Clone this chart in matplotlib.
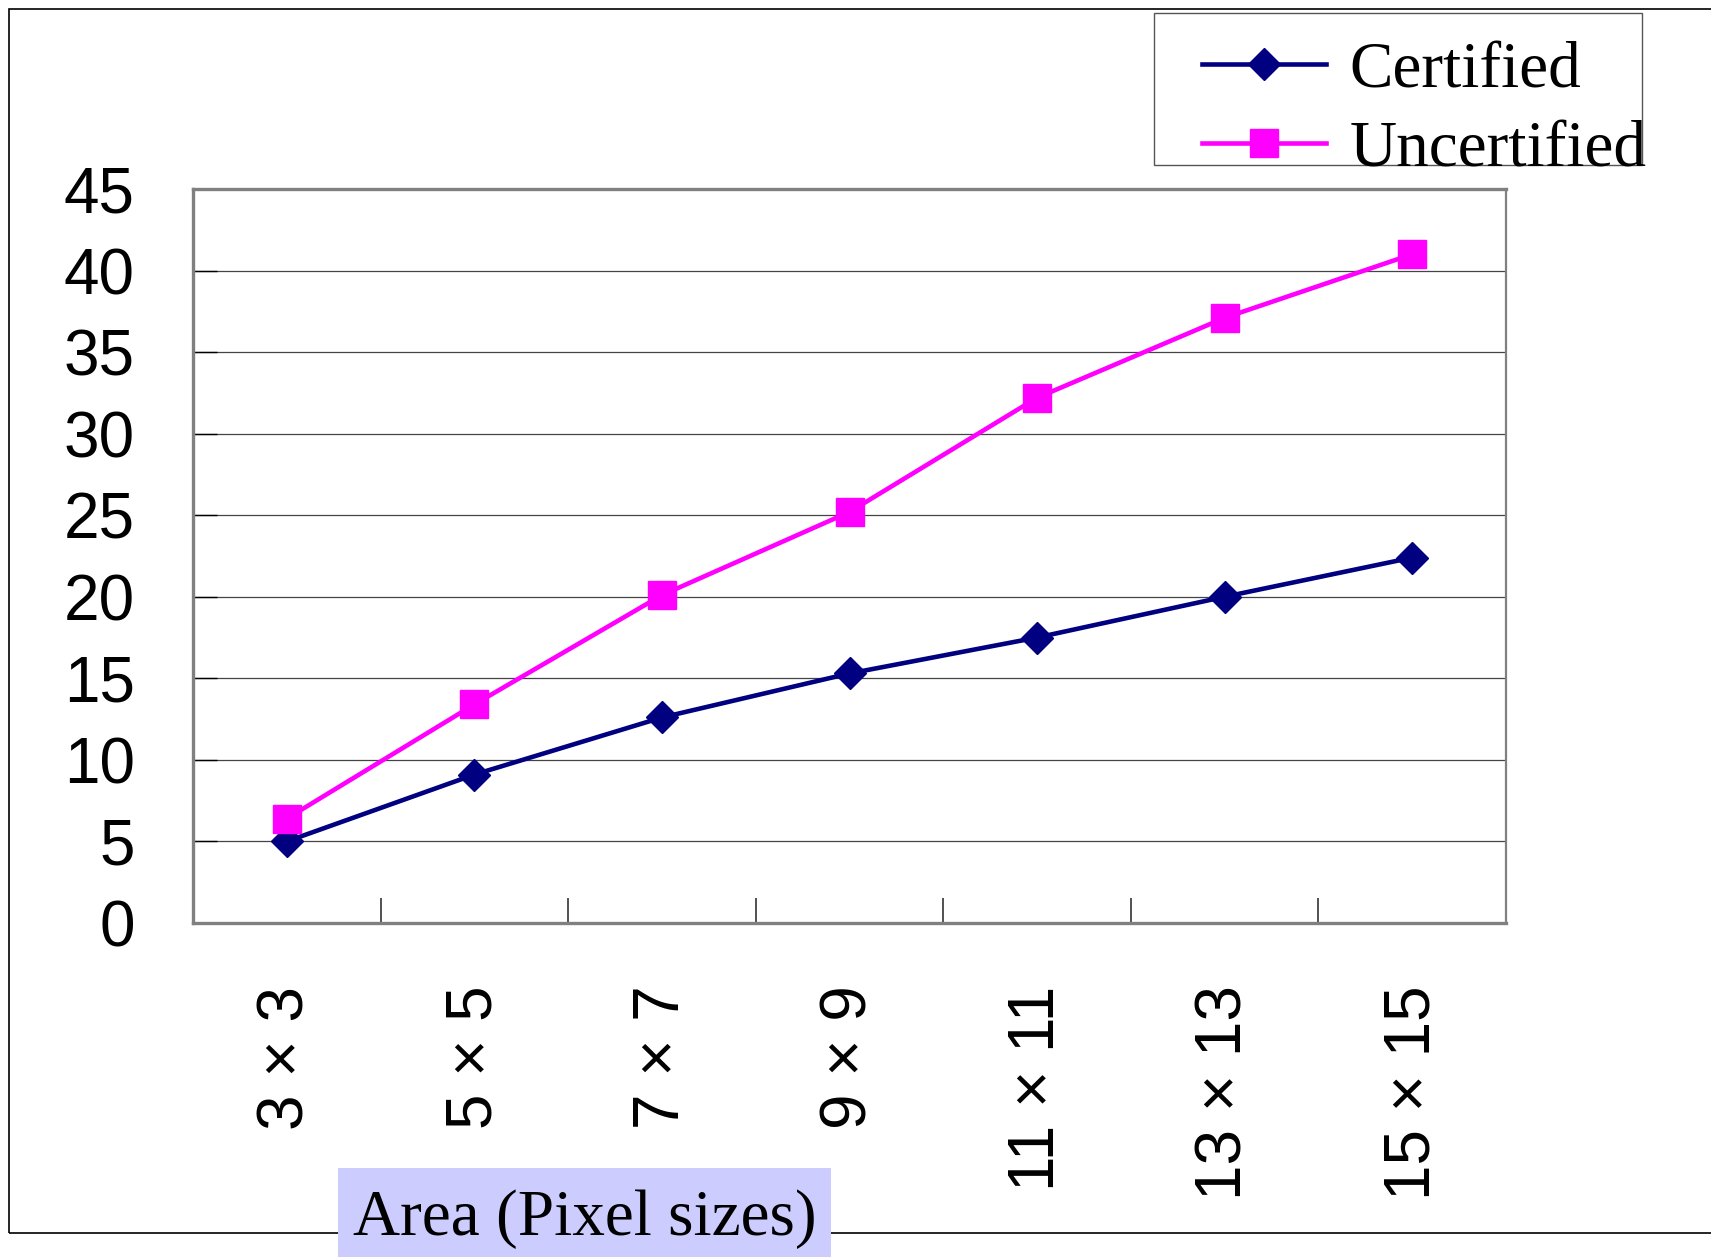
import matplotlib
matplotlib.use("Agg")
import matplotlib.pyplot as plt
from matplotlib.patches import Rectangle
from matplotlib.ticker import FixedLocator

# data
sizes = ["3 × 3", "5 × 5", "7 × 7", "9 × 9", "11 × 11", "13 × 13", "15 × 15"]
certified = [5.0, 9.1, 12.6, 15.3, 17.5, 20.0, 22.4]
uncertified = [6.4, 13.4, 20.1, 25.2, 32.2, 37.1, 41.0]
yticks = [0, 5, 10, 15, 20, 25, 30, 35, 40, 45]

W, H = 1711, 1257
fig = plt.figure(figsize=(W / 100, H / 100), dpi=100)
ax = fig.add_axes([193 / W, 1 - 923 / H, (1506 - 193) / W, (923 - 189) / H])

x = list(range(len(sizes)))
ax.plot(x, certified, color="#000080", lw=3.3, marker="D", ms=16.5,
        label="Certified", zorder=3)
ax.plot(x, uncertified, color="#FF00FF", lw=3.3, marker="s", ms=20,
        label="Uncertified", zorder=3)

ax.set_xlim(-0.5, len(sizes) - 0.5)
ax.set_ylim(0, 45)
ax.set_yticks(yticks)
ax.set_xticks(x)
ax.set_xticklabels(sizes, rotation=90, va="top", ha="center",
                   family="Liberation Sans", fontsize=46)
ax.xaxis.set_minor_locator(FixedLocator([i + 0.5 for i in range(-1, len(sizes))]))
ax.tick_params(axis="x", which="major", length=0, pad=45)
ax.tick_params(axis="x", which="minor", direction="in", length=18, width=1.2, color="#333333")
ax.tick_params(axis="y", direction="in", length=17, width=1, color="black", pad=42)
for t in ax.get_yticklabels():
    t.set_family("Liberation Sans")
    t.set_fontsize(46)

ax.grid(axis="y", color="#444444", lw=0.9)
ax.set_axisbelow(True)
for s in ["left", "bottom", "top"]:
    ax.spines[s].set_color("#808080")
    ax.spines[s].set_linewidth(2.4)
ax.spines["right"].set_color("#808080")
ax.spines["right"].set_linewidth(1.6)

# legend box drawn separately, entries placed inside it
fig.patches.append(Rectangle((1154 / W, 1 - 165 / H), (1642 - 1154) / W, (165 - 13) / H,
                             transform=fig.transFigure, facecolor="white",
                             edgecolor="#555555", lw=1.0, zorder=1))
leg = fig.legend(loc="upper left", bbox_to_anchor=(1186 / W, 1 - 25 / H),
                 prop={"family": "Liberation Serif", "size": 47},
                 handlelength=1.9, handletextpad=0.35, borderpad=0.25,
                 labelspacing=0.3, borderaxespad=0, frameon=False)
leg.set_zorder(2)

# outer chart border
fig.patches.append(Rectangle((9 / W, 1 - 1233 / H), 1.2, (1233 - 9) / H,
                             transform=fig.transFigure, fill=False,
                             edgecolor="black", lw=1.2, zorder=0))
# axis title in shaded box
fig.patches.append(Rectangle((338 / W, 0), (831 - 338) / W, (1257 - 1168) / H,
                             transform=fig.transFigure, facecolor="#CCCCFF",
                             edgecolor="none", zorder=1))
fig.text(585 / W, 1 - 1219 / H, "Area (Pixel sizes)", ha="center", va="center",
         family="Liberation Serif", fontsize=47, zorder=2)

fig.savefig("out.png", dpi=100, facecolor="white")
